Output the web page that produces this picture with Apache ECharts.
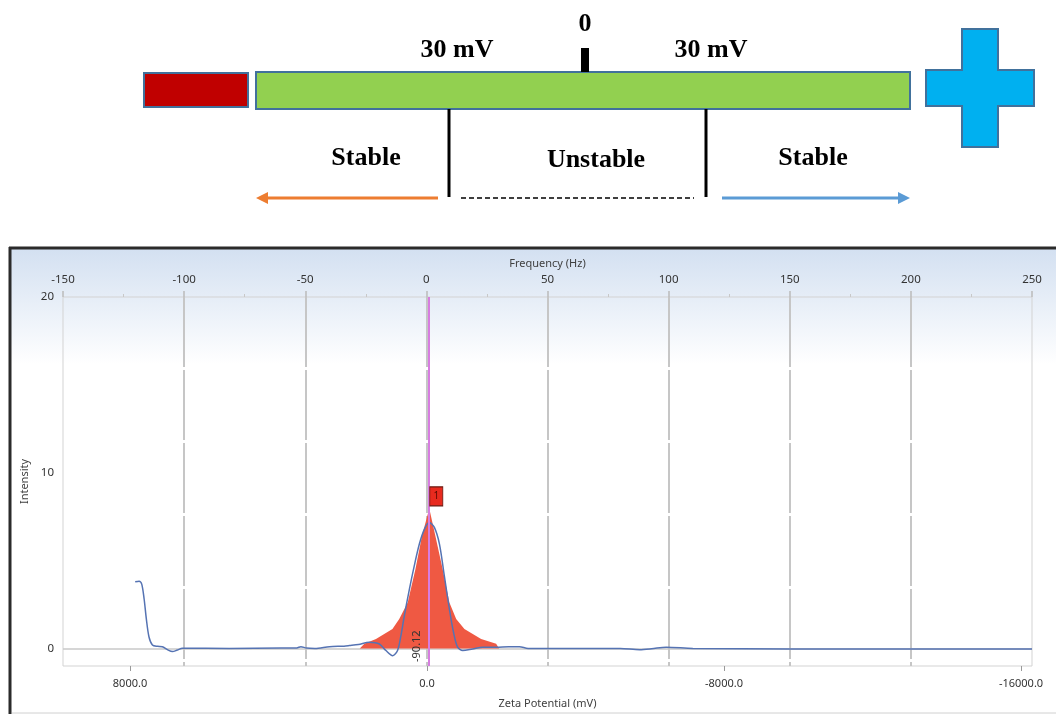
<!DOCTYPE html>
<html>
<head>
<meta charset="utf-8">
<script src="https://cdn.jsdelivr.net/npm/echarts@6/dist/echarts.min.js"></script>
<style>html,body{margin:0;padding:0;background:#fff}#c{width:1056px;height:714px}</style>
</head>
<body>
<div id="c"></div>
<script>
// ---- data (frequency in Hz on top axis, intensity on y) ----
const blueFreq = [-120.2,-118.6,-117.5,-116.5,-115.6,-114.5,-113.1,-111.0,-109.0,-106.9,-104.8,-102.8,-100.7,-81.4,-60,-53.5,-51.8,-49.5,-46,-40,-34,-31.8,-28,-23.6,-19.4,-16.7,-13.9,-11.9,-10.5,-9.1,-7.0,-5.0,-2.9,-0.8,1.2,3.3,5.4,7.4,9.5,11.2,12.9,15.0,19.1,23.3,28.8,34,38.4,42,60,80,88,93,99,110,150,200,250];
const blueIntensity = [3.8,3.83,3.66,2.8,1.68,0.65,0.2,0.12,0.1,-0.07,-0.18,-0.09,0.01,0.0,0.02,0.03,0.1,0.02,0.0,0.1,0.13,0.16,0.22,0.35,0.25,-0.12,-0.41,-0.12,0.73,1.86,3.38,4.7,5.94,6.79,7.17,6.89,5.94,4.14,2.24,0.92,0.07,-0.12,-0.03,0.07,0.07,0.1,0.1,0.0,0.0,0.0,-0.07,-0.02,0.07,0.0,-0.03,-0.03,-0.03];
const redFreq = [-27.5,-25.6,-20.8,-14.0,-11.2,-7.7,-4.5,-1.8,1.2,3.7,6.7,9.5,12.3,15.7,22.6,28.8,30.0];
const redIntensity = [0,0.26,0.54,1.11,1.68,2.62,4.52,6.41,7.97,6.41,4.52,2.62,1.68,1.11,0.54,0.26,0];
const peakMarkerFreq = 1.0;
const peakMarkerLabel = '-90.12';
const peakName = '1';
const freqRange = [-150, 250];
const zetaRange = [-16296, 9805];
const zetaTicks = [8000, 0, -8000, -16000];
const intensityRange = [-1, 20];
const intensityTicks = [0, 10, 20];
const schematicTexts = { zero: '0', left: '30 mV', right: '30 mV', stableL: 'Stable', unstable: 'Unstable', stableR: 'Stable' };

const blueData = blueFreq.map((f, i) => [f, blueIntensity[i]]);
const redData = redFreq.map((f, i) => [f, redIntensity[i]]);
const redPeakIdx = redIntensity.indexOf(Math.max(...redIntensity));

const chart = echarts.init(document.getElementById('c'));
const serif = 'Liberation Serif';
const sans = 'Noto Sans';
const bold = (x, y, t) => ({ type: 'text', x, y, z: 20, style: { text: t, font: 'bold 26px "' + serif + '"', fill: '#000', align: 'center', verticalAlign: 'middle' } });

const option = {
  animation: false,
  backgroundColor: '#fff',
  textStyle: { fontFamily: sans },
  graphic: [
    // chart panel background
    { type: 'rect', z: -10, shape: { x: 10, y: 248, width: 1046, height: 466 },
      style: { fill: new echarts.graphic.LinearGradient(0, 0, 0, 1, [
        { offset: 0, color: '#d3e0f1' }, { offset: 0.25, color: '#ffffff' }, { offset: 1, color: '#ffffff' }]), stroke: null } },
    { type: 'line', z: 5, shape: { x1: 9, y1: 248, x2: 1056, y2: 248 }, style: { stroke: '#2b2b2b', lineWidth: 3 } },
    { type: 'line', z: 5, shape: { x1: 10, y1: 247, x2: 10, y2: 714 }, style: { stroke: '#2b2b2b', lineWidth: 3 } },
    { type: 'line', z: 5, shape: { x1: 12, y1: 713, x2: 1056, y2: 713 }, style: { stroke: '#d0d0d0', lineWidth: 1 } },
    // schematic
    { type: 'rect', z: 10, shape: { x: 144, y: 73, width: 104, height: 34 }, style: { fill: '#c00000', stroke: '#41719c', lineWidth: 2 } },
    { type: 'rect', z: 10, shape: { x: 256, y: 72, width: 654, height: 37 }, style: { fill: '#92d050', stroke: '#41719c', lineWidth: 2 } },
    { type: 'polygon', z: 10, shape: { points: [[962,29],[998,29],[998,70],[1034,70],[1034,106],[998,106],[998,147],[962,147],[962,106],[926,106],[926,70],[962,70]] },
      style: { fill: '#00b0f0', stroke: '#41719c', lineWidth: 2 } },
    { type: 'rect', z: 10, shape: { x: 581, y: 48, width: 8, height: 24 }, style: { fill: '#000' } },
    bold(585, 24, schematicTexts.zero),
    bold(457, 50, schematicTexts.left),
    bold(711, 50, schematicTexts.right),
    bold(366, 158, schematicTexts.stableL),
    bold(596, 160, schematicTexts.unstable),
    bold(813, 158, schematicTexts.stableR),
    { type: 'line', z: 10, shape: { x1: 449, y1: 109, x2: 449, y2: 197 }, style: { stroke: '#000', lineWidth: 3 } },
    { type: 'line', z: 10, shape: { x1: 706, y1: 109, x2: 706, y2: 197 }, style: { stroke: '#000', lineWidth: 3 } },
    { type: 'line', z: 10, shape: { x1: 461, y1: 198, x2: 694, y2: 198 }, style: { stroke: '#000', lineWidth: 1.5, lineDash: [5, 3] } },
    { type: 'line', z: 10, shape: { x1: 438, y1: 198, x2: 264, y2: 198 }, style: { stroke: '#ed7d31', lineWidth: 3 } },
    { type: 'polygon', z: 10, shape: { points: [[256,198],[268,192],[268,204]] }, style: { fill: '#ed7d31' } },
    { type: 'line', z: 10, shape: { x1: 722, y1: 198, x2: 902, y2: 198 }, style: { stroke: '#5b9bd5', lineWidth: 3 } },
    { type: 'polygon', z: 10, shape: { points: [[910,198],[898,192],[898,204]] }, style: { fill: '#5b9bd5' } }
  ],
  grid: { left: 63, right: 24, top: 297, bottom: 46, show: true, borderColor: '#d3d3d3', borderWidth: 1, backgroundColor: 'transparent' },
  xAxis: [
    { type: 'value', position: 'top', min: freqRange[0], max: freqRange[1], interval: 50,
      name: 'Frequency (Hz)', nameLocation: 'middle', nameGap: 28,
      nameTextStyle: { fontSize: 11, color: '#404040', fontFamily: sans },
      axisLine: { show: false, onZero: false },
      axisTick: { show: true, length: 6, lineStyle: { color: '#bbbbbb', width: 1.5 } },
      minorTick: { show: true, splitNumber: 2, length: 3, lineStyle: { color: '#c8c8c8' } },
      axisLabel: { fontSize: 11.5, color: '#333', margin: 11, fontFamily: sans },
      splitLine: { show: true, showMinLine: false, showMaxLine: false, lineStyle: { color: '#c6c6c6', width: 2, type: [70, 3] } } },
    { type: 'value', position: 'bottom', inverse: true, min: zetaRange[0], max: zetaRange[1],
      name: 'Zeta Potential (mV)', nameLocation: 'middle', nameGap: 32,
      nameTextStyle: { fontSize: 11, color: '#404040', fontFamily: sans },
      axisLine: { show: false, onZero: false },
      axisTick: { show: true, length: 5, customValues: zetaTicks, lineStyle: { color: '#999' } },
      axisLabel: { fontSize: 11, color: '#333', margin: 12, customValues: zetaTicks, formatter: v => v.toFixed(1), fontFamily: sans },
      splitLine: { show: false } }
  ],
  yAxis: {
    type: 'value', min: intensityRange[0], max: intensityRange[1],
    name: 'Intensity', nameLocation: 'middle', nameGap: 28,
    nameTextStyle: { fontSize: 11, color: '#404040', fontFamily: sans },
    axisLine: { show: false, onZero: false }, axisTick: { show: false },
    axisLabel: { fontSize: 11.5, color: '#333', margin: 9, customValues: intensityTicks, fontFamily: sans },
    splitLine: { show: false }
  },
  series: [
    { type: 'line', name: 'peak', xAxisIndex: 0, data: redData, showSymbol: false, symbol: 'none',
      lineStyle: { width: 0 }, areaStyle: { color: '#ef5943', opacity: 1 }, z: 3,
      markLine: { silent: true, symbol: 'none',
        lineStyle: { color: '#d77de0', width: 2, type: 'solid' },
        label: { show: true, position: 'insideStartTop', formatter: peakMarkerLabel, color: '#333', fontSize: 11, distance: [4, 6], fontFamily: sans },
        data: [{ xAxis: peakMarkerFreq }] },
      markPoint: { silent: true, symbol: 'rect', symbolSize: [13, 19], symbolOffset: [7, -12],
        itemStyle: { color: '#e82a1e', borderColor: '#6a1a10', borderWidth: 1 },
        label: { show: true, formatter: peakName, color: '#5a0a00', fontSize: 10, fontFamily: sans },
        data: [{ coord: redData[redPeakIdx] }] } },
    { type: 'line', name: 'intensity', xAxisIndex: 0, data: blueData, showSymbol: false, symbol: 'none', smooth: 0.3,
      lineStyle: { color: '#5573b3', width: 1.5 }, z: 4,
      markLine: { silent: true, symbol: 'none', label: { show: false },
        lineStyle: { color: '#c8c8c8', width: 1.5, type: 'solid' }, data: [{ yAxis: 0 }], z: 1 } }
  ]
};
chart.setOption(option);
</script>
</body>
</html>
